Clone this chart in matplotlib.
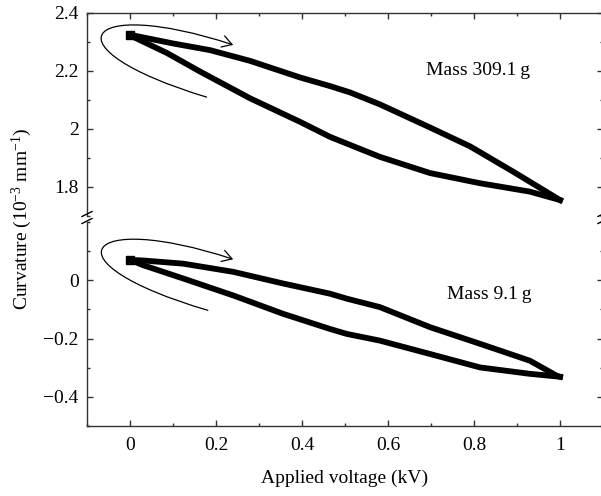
import matplotlib
matplotlib.use("Agg")
import matplotlib.pyplot as plt
from matplotlib.patches import FancyArrowPatch
from matplotlib.path import Path
from matplotlib.ticker import MultipleLocator, FixedLocator, FuncFormatter

plt.rcParams['font.family'] = ['Liberation Serif', 'DejaVu Serif']
plt.rcParams['mathtext.fontset'] = 'custom'
plt.rcParams['mathtext.rm'] = 'Liberation Serif'
plt.rcParams['mathtext.it'] = 'Liberation Serif:italic'

# Mass 309.1 g loop (forward = increasing voltage, back = returning)
heavy_fwd_x = [0.0, 0.05, 0.1, 0.186, 0.279, 0.395, 0.465, 0.512, 0.581, 0.698, 0.791, 0.891, 1.0]
heavy_fwd_y = [2.325, 2.31, 2.295, 2.272, 2.235, 2.178, 2.148, 2.126, 2.085, 2.005, 1.94, 1.853, 1.755]
heavy_back_x = [1.0, 0.93, 0.814, 0.698, 0.581, 0.512, 0.465, 0.395, 0.279, 0.163, 0.086, 0.007, 0.0]
heavy_back_y = [1.755, 1.784, 1.813, 1.848, 1.904, 1.945, 1.973, 2.025, 2.106, 2.198, 2.262, 2.318, 2.325]

# Mass 9.1 g loop
light_fwd_x = [0.0, 0.03, 0.124, 0.24, 0.356, 0.465, 0.504, 0.581, 0.698, 0.814, 0.93, 0.993, 1.0]
light_fwd_y = [0.07, 0.068, 0.057, 0.029, -0.011, -0.046, -0.063, -0.092, -0.161, -0.218, -0.276, -0.328, -0.331]
light_back_x = [1.0, 0.93, 0.814, 0.698, 0.581, 0.504, 0.465, 0.356, 0.24, 0.124, 0.03, 0.0]
light_back_y = [-0.331, -0.321, -0.299, -0.253, -0.207, -0.184, -0.167, -0.115, -0.052, 0.006, 0.052, 0.07]

top_yticks = [1.8, 2.0, 2.2, 2.4]
bot_yticks = [-0.4, -0.2, 0.0]

# hook-shaped direction arrows (cubic bezier control points)
heavy_arrow = [(0.178, 2.11), (-0.2, 2.28), (-0.11, 2.46), (0.24, 2.29)]
light_arrow = [(0.181, -0.103), (-0.2, 0.062), (-0.11, 0.242), (0.24, 0.072)]

fig = plt.figure(figsize=(6.01, 4.96), dpi=100)
W, H = 601, 496
ax_top = fig.add_axes([87 / W, 1 - 216 / H, 516 / W, 203 / H])
ax_bot = fig.add_axes([87 / W, 1 - 426 / H, 516 / W, 204 / H])

axcol = '#333333'
fs = 14
fmt = FuncFormatter(lambda v, p: ('%g' % round(v, 3)).replace('-', '\u2212'))

for ax in (ax_top, ax_bot):
    ax.set_xlim(-0.1, 1.1)
    ax.xaxis.set_major_locator(MultipleLocator(0.2))
    ax.xaxis.set_minor_locator(MultipleLocator(0.1))
    ax.yaxis.set_minor_locator(MultipleLocator(0.1))
    ax.xaxis.set_major_formatter(fmt)
    ax.yaxis.set_major_formatter(fmt)
    ax.tick_params(which='both', direction='in', top=True, right=True, colors=axcol,
                   labelcolor='black', labelsize=fs, width=1)
    ax.tick_params(which='major', length=4.5)
    ax.tick_params(which='minor', length=2.5)
    ax.tick_params(axis='y', pad=6)
    ax.tick_params(axis='x', pad=8)
    for s in ax.spines.values():
        s.set_color(axcol)
        s.set_linewidth(1)

ax_top.yaxis.set_major_locator(FixedLocator(top_yticks))
ax_bot.yaxis.set_major_locator(FixedLocator(bot_yticks))
ax_top.set_ylim(1.7, 2.4)
ax_bot.set_ylim(-0.5, 0.2)
ax_top.spines['bottom'].set_visible(False)
ax_bot.spines['top'].set_visible(False)
ax_top.tick_params(which='both', bottom=False, labelbottom=False)
ax_bot.tick_params(which='both', top=False)

lw = 4.2
ax_top.plot(heavy_fwd_x, heavy_fwd_y, color='black', lw=lw, solid_joinstyle='round')
ax_top.plot(heavy_back_x, heavy_back_y, color='black', lw=lw, solid_joinstyle='round')
ax_top.plot(heavy_fwd_x[:1], heavy_fwd_y[:1], 's', color='black', ms=6)
ax_bot.plot(light_fwd_x, light_fwd_y, color='black', lw=lw, solid_joinstyle='round')
ax_bot.plot(light_back_x, light_back_y, color='black', lw=lw, solid_joinstyle='round')
ax_bot.plot(light_fwd_x[:1], light_fwd_y[:1], 's', color='black', ms=6)

codes = [Path.MOVETO, Path.CURVE4, Path.CURVE4, Path.CURVE4]
for ax, pts in ((ax_top, heavy_arrow), (ax_bot, light_arrow)):
    arr = FancyArrowPatch(path=Path(pts, codes), arrowstyle='->,head_length=0.5,head_width=0.3',
                          mutation_scale=14, lw=0.9, color='black', transform=ax.transData)
    ax.add_patch(arr)

ax_top.text(0.81, 2.2, 'Mass 309.1\u2009g', ha='center', va='center', fontsize=fs)
ax_bot.text(0.835, -0.05, 'Mass 9.1\u2009g', ha='center', va='center', fontsize=fs)

# break marks on both spines
for xp in (87, 603):
    for yp in (214, 221):
        fig.add_artist(plt.Line2D([(xp - 5) / W, (xp + 5) / W], [1 - (yp + 2.5) / H, 1 - (yp - 2.5) / H],
                                  color='black', lw=1))

fig.text(22 / W, 1 - 219 / H, 'Curvature (10$^{-3}$ mm$^{-1}$)', rotation=90,
         ha='center', va='center', fontsize=fs)
fig.text(345 / W, 1 - 478 / H, 'Applied voltage (kV)', ha='center', va='center', fontsize=fs)

fig.savefig('out.png', dpi=100)
